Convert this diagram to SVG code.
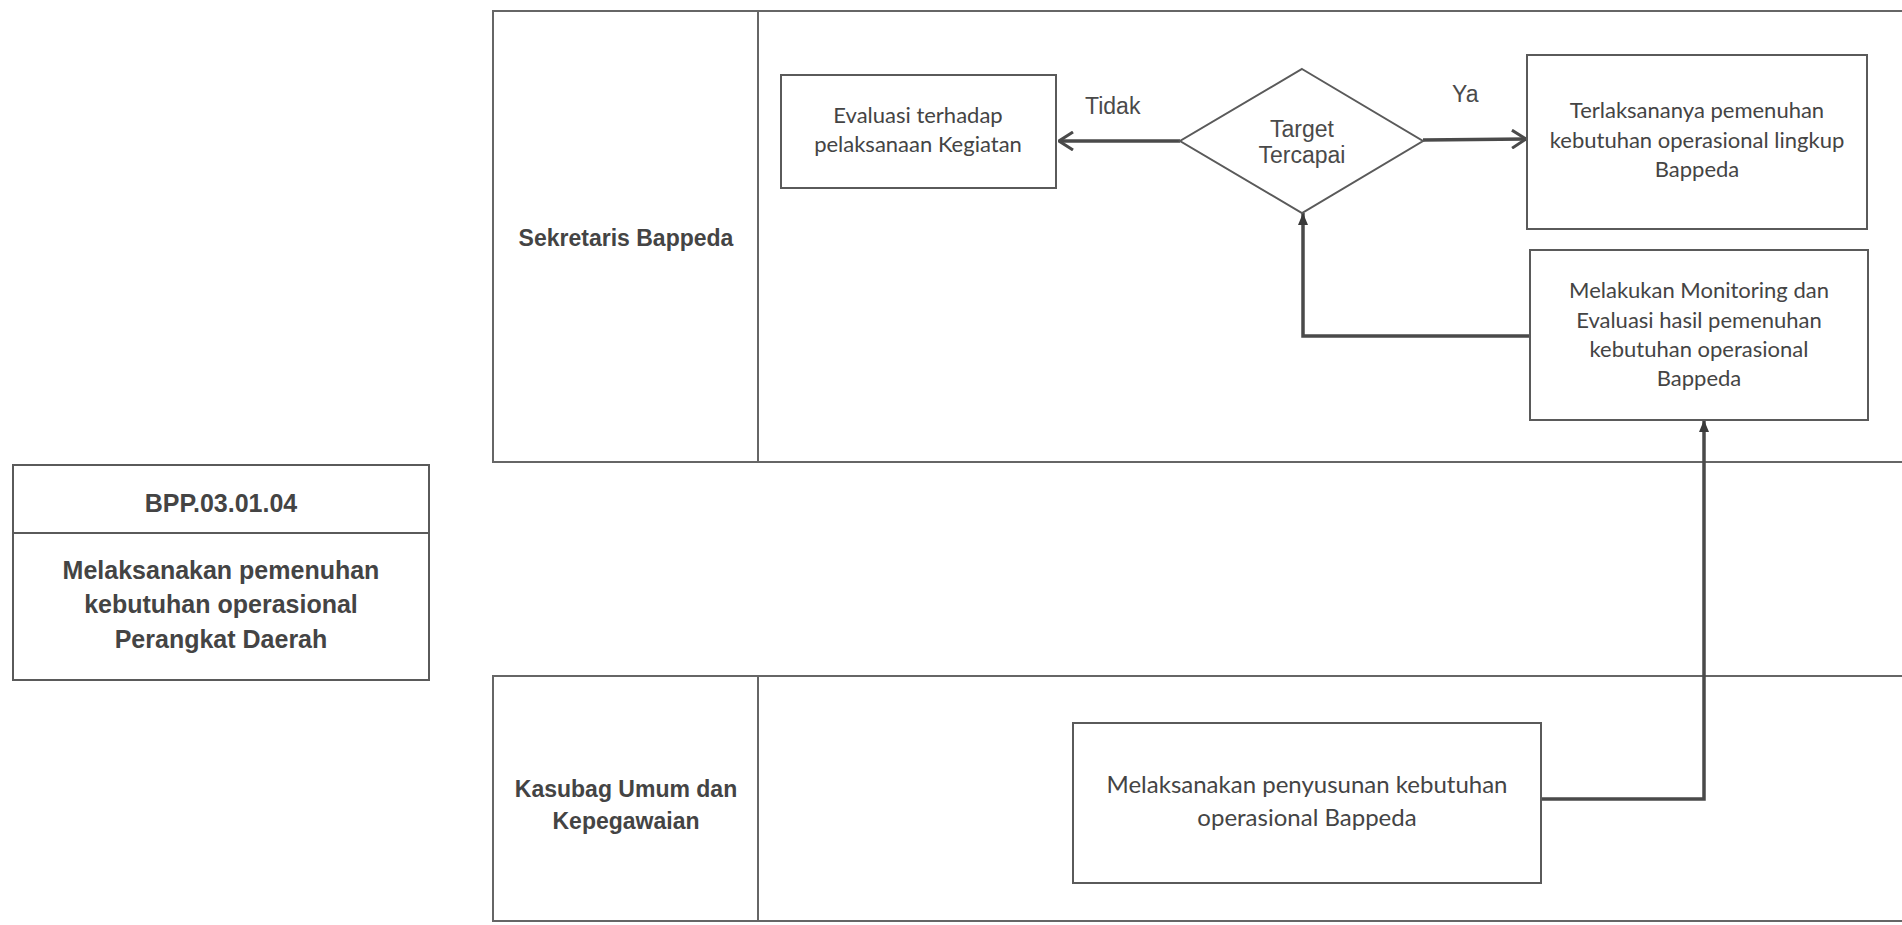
<svg xmlns="http://www.w3.org/2000/svg" width="1902" height="925" viewBox="0 0 1902 925">
<defs>
<style>
.lane{fill:none;stroke:#666;stroke-width:2}
.box{fill:#fff;stroke:#5a5a5a;stroke-width:2}
.conn{fill:none;stroke:#4a4a4a;stroke-width:3.5}
.lbl{font-family:"Liberation Sans",Arial,sans-serif;font-weight:bold;font-size:23px;fill:#444;text-anchor:middle}
.hdr{font-family:"Liberation Sans",Arial,sans-serif;font-weight:bold;font-size:25px;fill:#444;text-anchor:middle}
.arl{font-family:"Liberation Sans",Arial,sans-serif;font-size:23px;fill:#4a4a4a}
.txt{font-family:Lato,"Liberation Sans",sans-serif;font-size:22px;fill:#444;text-anchor:middle}
.txt2{font-family:Lato,"Liberation Sans",sans-serif;font-size:24px;fill:#444;text-anchor:middle}
</style>
<marker id="open" markerWidth="16" markerHeight="20" refX="15" refY="10" orient="auto" markerUnits="userSpaceOnUse">
<path d="M1,1 L15,10 L1,19" fill="none" stroke="#4a4a4a" stroke-width="3"/>
</marker>
<marker id="fill" markerWidth="12" markerHeight="12" refX="12" refY="6" orient="auto" markerUnits="userSpaceOnUse">
<path d="M0,1 L12,6 L0,11 Z" fill="#3a3a3a"/>
</marker>
</defs>
<rect width="1902" height="925" fill="#fff"/>

<g id="lane-sekretaris">
<rect class="lane" x="493" y="11" width="1420" height="451"/>
<line class="lane" x1="758" y1="11" x2="758" y2="462"/>
<text class="lbl" x="626" y="246">Sekretaris Bappeda</text>
</g>

<g id="lane-kasubag">
<rect class="lane" x="493" y="676" width="1420" height="245"/>
<line class="lane" x1="758" y1="676" x2="758" y2="921"/>
<text class="lbl" x="626" y="797">Kasubag Umum dan</text>
<text class="lbl" x="626" y="829">Kepegawaian</text>
</g>

<g id="info-box">
<rect class="box" x="13" y="465" width="416" height="215"/>
<line class="box" x1="13" y1="533" x2="429" y2="533"/>
<text class="hdr" x="221" y="512">BPP.03.01.04</text>
<text class="hdr" x="221" y="579">Melaksanakan pemenuhan</text>
<text class="hdr" x="221" y="613">kebutuhan operasional</text>
<text class="hdr" x="221" y="648">Perangkat Daerah</text>
</g>

<g id="connectors">
<path class="conn" d="M1180,141 L1059,141" marker-end="url(#open)"/>
<path class="conn" d="M1423,140 L1526,139" marker-end="url(#open)"/>
<path class="conn" d="M1530,336 L1303,336 L1303,213" marker-end="url(#fill)"/>
<path class="conn" d="M1541,799 L1704,799 L1704,420" marker-end="url(#fill)"/>
<text class="arl" x="1085" y="114">Tidak</text>
<text class="arl" x="1452" y="102">Ya</text>
</g>

<g id="evaluasi">
<rect class="box" x="781" y="75" width="275" height="113"/>
<text class="txt" x="918" y="123">Evaluasi terhadap</text>
<text class="txt" x="918" y="152">pelaksanaan Kegiatan</text>
</g>

<g id="target">
<polygon class="box" points="1302,69 1423,141 1302,213 1180,141"/>
<text class="arl" x="1302" y="137" text-anchor="middle">Target</text>
<text class="arl" x="1302" y="163" text-anchor="middle">Tercapai</text>
</g>

<g id="terlaksananya">
<rect class="box" x="1527" y="55" width="340" height="174"/>
<text class="txt" x="1697" y="118">Terlaksananya pemenuhan</text>
<text class="txt" x="1697" y="148">kebutuhan operasional lingkup</text>
<text class="txt" x="1697" y="177">Bappeda</text>
</g>

<g id="monitoring">
<rect class="box" x="1530" y="250" width="338" height="170"/>
<text class="txt" x="1699" y="298">Melakukan Monitoring dan</text>
<text class="txt" x="1699" y="328">Evaluasi hasil pemenuhan</text>
<text class="txt" x="1699" y="357">kebutuhan operasional</text>
<text class="txt" x="1699" y="386">Bappeda</text>
</g>

<g id="penyusunan">
<rect class="box" x="1073" y="723" width="468" height="160"/>
<text class="txt2" x="1307" y="793">Melaksanakan penyusunan kebutuhan</text>
<text class="txt2" x="1307" y="826">operasional Bappeda</text>
</g>
</svg>
